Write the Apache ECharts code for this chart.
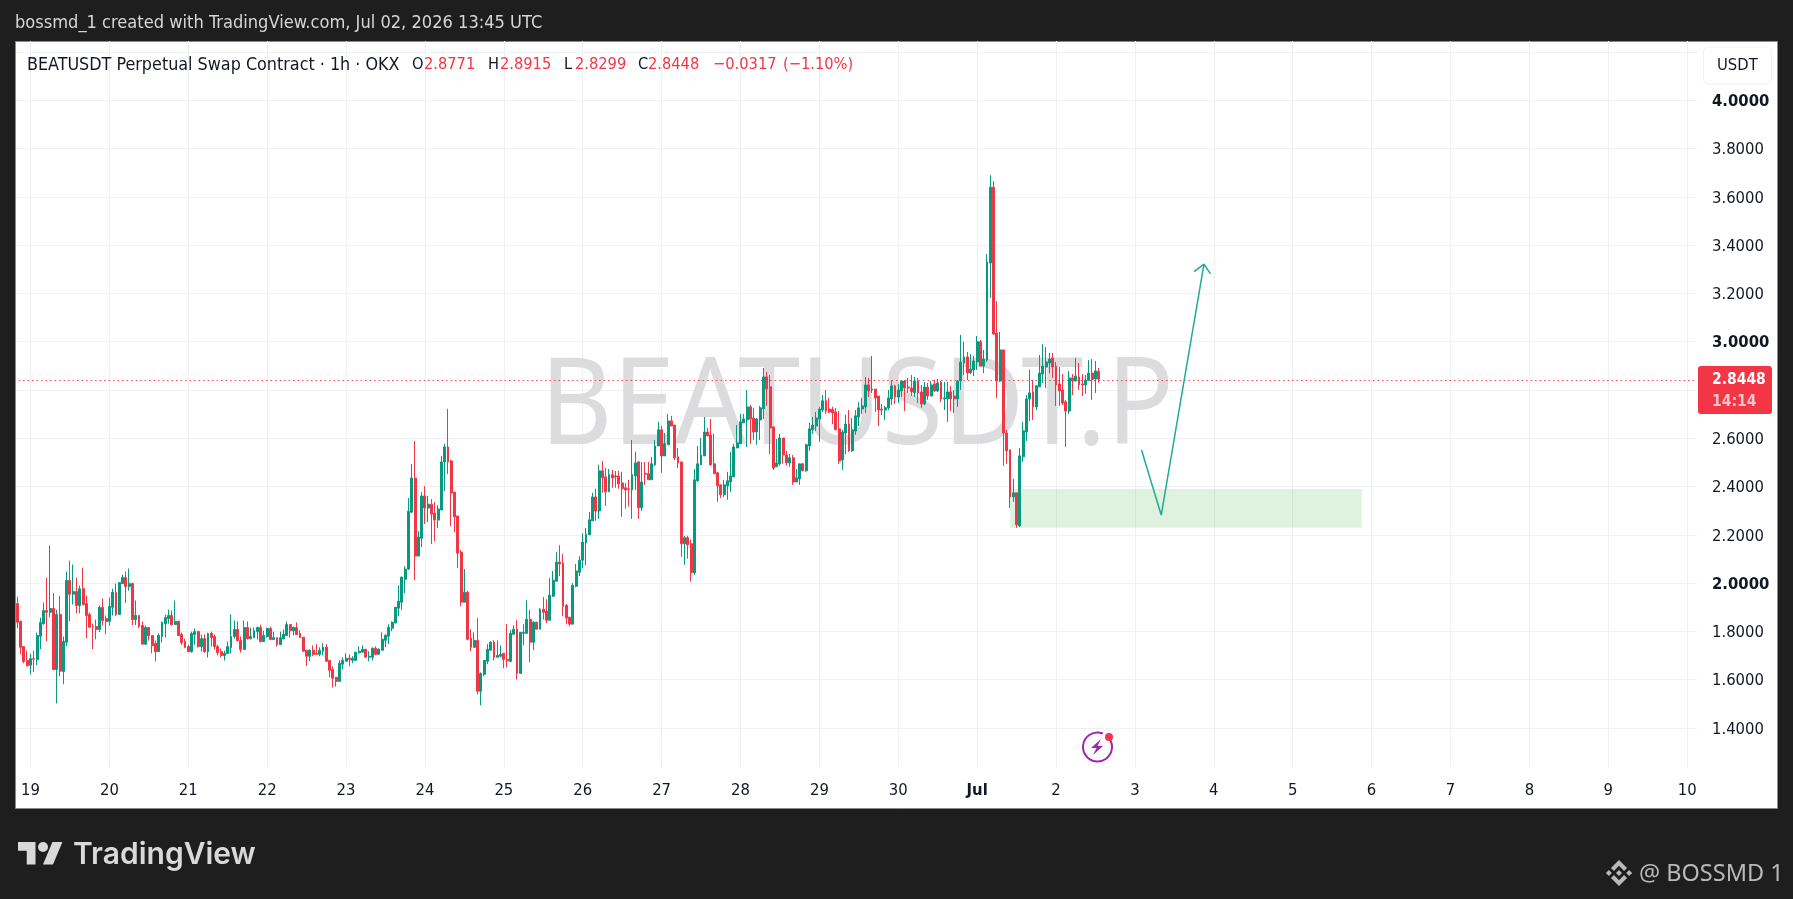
<!DOCTYPE html>
<html><head><meta charset="utf-8">
<script src="https://cdn.jsdelivr.net/npm/echarts@6/dist/echarts.min.js"></script>
<style>html,body{margin:0;padding:0;background:#1e1e1e}#c{width:1793px;height:899px}</style>
</head><body><div id="c"></div>
<script>
const dayLabels=['19','20','21','22','23','24','25','26','27','28','29','30','Jul','2','3','4','5','6','7','8','9','10'];
const priceTicks=[1.4,1.6,1.8,2.0,2.2,2.4,2.6,2.8,3.0,3.2,3.4,3.6,3.8,4.0,4.2];
const priceLabels=[1.4,1.6,1.8,2.0,2.2,2.4,2.6,2.8,3.0,3.2,3.4,3.6,3.8,4.0];
const lastPrice=2.8448;
const opens=[
1.915,1.841,1.737,1.679,1.660,1.687,1.683,1.780,1.832,1.886,
1.879,1.895,1.642,1.870,1.634,1.755,2.011,1.954,1.965,1.907,
1.977,1.915,1.870,1.820,1.820,1.808,1.899,1.853,1.842,1.900,
1.961,1.870,1.998,2.023,1.986,1.998,1.849,1.866,1.824,1.747,
1.816,1.783,1.750,1.716,1.779,1.832,1.853,1.866,1.828,1.841,
1.787,1.758,1.737,1.716,1.787,1.799,1.737,1.770,1.716,1.791,
1.779,1.737,1.716,1.700,1.708,1.733,1.779,1.808,1.762,1.725,
1.816,1.770,1.774,1.799,1.816,1.758,1.779,1.812,1.766,1.774,
1.745,1.770,1.783,1.828,1.803,1.816,1.792,1.776,1.722,1.697,
1.722,1.709,1.705,1.718,1.734,1.680,1.643,1.610,1.593,1.664,
1.676,1.689,1.680,1.680,1.711,1.714,1.726,1.693,1.693,1.730,
1.705,1.722,1.763,1.780,1.813,1.835,1.896,1.921,2.016,2.058,
2.294,2.435,2.112,2.186,2.361,2.311,2.327,2.290,2.261,2.303,
2.502,2.564,2.506,2.377,2.278,2.128,1.921,1.962,1.772,1.734,
1.763,1.552,1.622,1.676,1.722,1.755,1.693,1.697,1.709,1.684,
1.676,1.788,1.809,1.626,1.792,1.792,1.850,1.755,1.838,1.809,
1.892,1.884,1.846,1.946,2.008,2.087,2.083,1.908,1.859,1.830,
1.987,2.045,2.095,2.166,2.200,2.258,2.357,2.299,2.465,2.440,
2.378,2.449,2.444,2.444,2.415,2.395,2.391,2.386,2.444,2.502,
2.312,2.455,2.453,2.428,2.490,2.568,2.635,2.527,2.573,2.672,
2.655,2.523,2.502,2.163,2.188,2.163,2.043,2.424,2.490,2.527,
2.626,2.614,2.494,2.457,2.407,2.366,2.403,2.419,2.440,2.560,
2.577,2.664,2.676,2.730,2.684,2.626,2.676,2.722,2.854,2.813,
2.647,2.482,2.494,2.601,2.531,2.498,2.519,2.419,2.432,2.494,
2.465,2.568,2.635,2.651,2.680,2.717,2.755,2.721,2.719,2.709,
2.639,2.510,2.622,2.659,2.548,2.630,2.688,2.721,2.730,2.821,
2.800,2.804,2.775,2.721,2.717,2.726,2.763,2.817,2.771,2.796,
2.837,2.812,2.808,2.789,2.837,2.792,2.742,2.812,2.775,2.825,
2.796,2.833,2.763,2.763,2.792,2.775,2.763,2.837,2.912,2.937,
2.871,2.883,2.916,3.000,2.899,2.924,3.326,3.640,3.036,2.837,
2.966,2.622,2.552,2.357,2.374,2.237,2.523,2.626,2.763,2.792,
2.730,2.813,2.866,2.895,2.912,2.933,2.899,2.825,2.800,2.751,
2.713,2.850,2.837,2.854,2.825,2.821,2.840,2.870,2.846,2.8771];
const highs=[
1.944,1.845,1.737,1.720,1.707,1.720,1.795,1.857,1.919,2.023,
2.156,1.959,1.890,1.948,1.779,2.048,2.093,2.077,2.023,1.990,
2.064,1.948,1.878,1.832,1.849,1.907,1.936,1.866,1.940,1.977,
1.998,2.002,2.035,2.048,2.060,2.002,1.928,1.866,1.841,1.824,
1.816,1.783,1.762,1.791,1.841,1.870,1.890,1.886,1.928,1.845,
1.795,1.770,1.745,1.799,1.812,1.803,1.787,1.787,1.795,1.799,
1.787,1.745,1.729,1.720,1.758,1.870,1.845,1.841,1.779,1.845,
1.841,1.816,1.816,1.820,1.828,1.803,1.816,1.820,1.799,1.774,
1.799,1.808,1.841,1.828,1.820,1.837,1.805,1.776,1.722,1.726,
1.742,1.747,1.734,1.751,1.747,1.680,1.655,1.610,1.680,1.693,
1.709,1.705,1.697,1.714,1.738,1.742,1.726,1.718,1.734,1.738,
1.730,1.796,1.788,1.830,1.842,1.900,1.991,2.025,2.070,2.352,
2.493,2.589,2.215,2.377,2.402,2.361,2.348,2.336,2.323,2.527,
2.576,2.722,2.510,2.377,2.278,2.137,2.058,1.967,1.809,1.796,
1.855,1.630,1.680,1.747,1.759,1.763,1.763,1.742,1.709,1.830,
1.805,1.825,1.846,1.796,1.830,1.929,1.888,1.842,1.838,1.896,
1.942,1.933,2.020,2.050,2.128,2.157,2.120,1.913,1.859,2.000,
2.079,2.112,2.207,2.228,2.295,2.374,2.391,2.490,2.506,2.477,
2.473,2.469,2.465,2.465,2.461,2.415,2.428,2.593,2.544,2.505,
2.502,2.502,2.502,2.523,2.593,2.668,2.651,2.622,2.701,2.693,
2.655,2.560,2.502,2.196,2.196,2.180,2.473,2.568,2.601,2.688,
2.643,2.680,2.618,2.461,2.407,2.428,2.461,2.544,2.577,2.655,
2.701,2.701,2.800,2.738,2.726,2.684,2.734,2.891,2.875,2.862,
2.647,2.597,2.618,2.601,2.548,2.535,2.531,2.473,2.494,2.498,
2.577,2.664,2.688,2.709,2.730,2.779,2.800,2.767,2.731,2.726,
2.713,2.635,2.697,2.717,2.684,2.717,2.750,2.767,2.854,2.850,
2.941,2.804,2.775,2.742,2.734,2.800,2.841,2.821,2.825,2.841,
2.841,2.850,2.862,2.854,2.850,2.821,2.833,2.829,2.837,2.841,
2.846,2.837,2.833,2.833,2.817,2.800,2.841,3.028,3.000,2.957,
2.949,2.941,3.024,3.007,2.966,3.363,3.690,3.665,3.168,3.040,
2.966,2.635,2.552,2.432,2.374,2.560,2.668,2.779,2.883,2.841,
2.821,2.945,2.990,2.978,2.953,2.953,2.916,2.895,2.866,2.759,
2.879,2.866,2.933,2.912,2.866,2.862,2.924,2.928,2.920,2.8915];
const lows=[
1.813,1.705,1.668,1.654,1.622,1.631,1.660,1.726,1.828,1.759,
1.859,1.639,1.502,1.614,1.581,1.739,1.842,1.911,1.875,1.875,
1.908,1.772,1.817,1.726,1.767,1.797,1.824,1.788,1.824,1.866,
1.864,1.870,1.997,1.917,1.969,1.826,1.826,1.813,1.747,1.743,
1.762,1.709,1.676,1.716,1.754,1.774,1.832,1.824,1.828,1.783,
1.745,1.733,1.716,1.712,1.745,1.733,1.716,1.712,1.692,1.737,
1.725,1.700,1.692,1.679,1.708,1.708,1.770,1.758,1.712,1.725,
1.766,1.766,1.774,1.766,1.754,1.758,1.774,1.766,1.766,1.737,
1.745,1.766,1.783,1.774,1.783,1.787,1.774,1.715,1.657,1.677,
1.697,1.705,1.697,1.701,1.673,1.610,1.568,1.572,1.593,1.643,
1.676,1.655,1.668,1.680,1.709,1.714,1.693,1.676,1.680,1.701,
1.705,1.722,1.734,1.747,1.801,1.834,1.863,1.888,1.958,2.054,
2.290,2.012,2.112,2.149,2.245,2.253,2.162,2.174,2.228,2.303,
2.381,2.452,2.236,2.211,2.062,1.904,1.921,1.763,1.718,1.734,
1.539,1.494,1.614,1.664,1.722,1.680,1.693,1.694,1.647,1.651,
1.672,1.788,1.601,1.626,1.742,1.792,1.672,1.722,1.809,1.809,
1.849,1.834,1.846,1.942,2.008,2.029,1.863,1.830,1.821,1.830,
1.983,2.029,2.062,2.074,2.200,2.258,2.258,2.266,2.374,2.320,
2.378,2.395,2.395,2.391,2.275,2.308,2.317,2.266,2.386,2.266,
2.300,2.407,2.428,2.428,2.486,2.568,2.457,2.527,2.573,2.651,
2.510,2.477,2.109,2.076,2.101,2.006,2.035,2.419,2.490,2.527,
2.610,2.486,2.453,2.337,2.353,2.357,2.345,2.378,2.440,2.560,
2.577,2.664,2.564,2.577,2.593,2.573,2.593,2.680,2.734,2.535,
2.469,2.482,2.486,2.494,2.486,2.482,2.407,2.419,2.407,2.465,
2.461,2.548,2.618,2.630,2.585,2.709,2.701,2.705,2.659,2.635,
2.494,2.469,2.535,2.544,2.544,2.614,2.651,2.701,2.705,2.771,
2.788,2.709,2.651,2.697,2.676,2.717,2.738,2.742,2.746,2.771,
2.713,2.788,2.775,2.771,2.746,2.726,2.738,2.759,2.775,2.792,
2.792,2.750,2.717,2.668,2.713,2.705,2.730,2.800,2.862,2.841,
2.866,2.858,2.883,2.899,2.870,2.916,3.181,3.028,2.767,2.833,
2.486,2.494,2.312,2.337,2.229,2.233,2.502,2.589,2.672,2.676,
2.717,2.813,2.829,2.808,2.869,2.850,2.734,2.734,2.738,2.564,
2.701,2.779,2.837,2.800,2.775,2.784,2.840,2.759,2.788,2.8299];
const closes=[
1.838,1.734,1.675,1.658,1.687,1.685,1.783,1.837,1.886,1.879,
1.895,1.642,1.870,1.635,1.758,2.011,1.954,1.965,1.907,1.977,
1.911,1.866,1.817,1.817,1.808,1.899,1.845,1.841,1.903,1.961,
1.870,2.002,2.023,1.986,1.998,1.849,1.866,1.821,1.747,1.816,
1.783,1.741,1.716,1.783,1.837,1.857,1.866,1.828,1.841,1.783,
1.754,1.733,1.716,1.791,1.799,1.737,1.770,1.716,1.791,1.774,
1.737,1.712,1.700,1.709,1.737,1.779,1.808,1.762,1.725,1.816,
1.770,1.779,1.803,1.816,1.758,1.783,1.812,1.766,1.774,1.745,
1.774,1.787,1.828,1.803,1.816,1.787,1.774,1.718,1.697,1.722,
1.705,1.705,1.722,1.734,1.676,1.639,1.606,1.593,1.668,1.680,
1.689,1.684,1.689,1.714,1.718,1.726,1.693,1.697,1.730,1.705,
1.726,1.767,1.784,1.817,1.838,1.900,1.925,2.025,2.058,2.298,
2.435,2.112,2.191,2.361,2.311,2.327,2.286,2.261,2.307,2.502,
2.564,2.502,2.373,2.274,2.124,1.921,1.962,1.767,1.734,1.763,
1.552,1.626,1.680,1.726,1.755,1.693,1.701,1.704,1.684,1.678,
1.792,1.809,1.626,1.796,1.796,1.850,1.755,1.838,1.809,1.892,
1.879,1.846,1.950,2.012,2.087,2.079,1.904,1.855,1.830,1.991,
2.050,2.095,2.170,2.203,2.262,2.357,2.299,2.465,2.436,2.378,
2.449,2.436,2.440,2.411,2.391,2.386,2.388,2.449,2.498,2.312,
2.419,2.451,2.428,2.494,2.568,2.635,2.527,2.577,2.672,2.651,
2.519,2.498,2.163,2.188,2.159,2.043,2.428,2.494,2.531,2.626,
2.610,2.490,2.453,2.403,2.366,2.407,2.424,2.444,2.564,2.581,
2.668,2.680,2.730,2.680,2.626,2.680,2.726,2.854,2.804,2.643,
2.477,2.498,2.601,2.531,2.498,2.519,2.419,2.436,2.494,2.465,
2.573,2.639,2.655,2.684,2.721,2.755,2.713,2.709,2.705,2.635,
2.506,2.626,2.659,2.548,2.635,2.693,2.726,2.734,2.821,2.796,
2.804,2.767,2.717,2.717,2.726,2.767,2.817,2.771,2.800,2.837,
2.808,2.808,2.792,2.837,2.788,2.742,2.812,2.775,2.821,2.796,
2.829,2.763,2.767,2.792,2.763,2.763,2.837,2.916,2.937,2.871,
2.887,2.920,3.000,2.899,2.928,3.330,3.640,3.032,2.837,2.966,
2.622,2.548,2.357,2.374,2.242,2.527,2.631,2.763,2.788,2.730,
2.817,2.870,2.899,2.916,2.928,2.895,2.821,2.796,2.746,2.713,
2.850,2.837,2.858,2.821,2.821,2.841,2.870,2.844,2.879,2.8448];
// drawn annotations, as [hour slot, price]
const arrowLine=[[343,2.5515],[349,2.282],[362,3.321]];
const arrowHead=[[359,3.290],[362,3.321],[364,3.281]];
const zoneFrom=[303,2.390];
const zoneTo=[410,2.2295];

const SLOTS=513, FIRST_DAY_SLOT=5;
const hourAxis=[];
for(let i=0;i<SLOTS;i++){const k=(i-FIRST_DAY_SLOT)/24;hourAxis.push(Number.isInteger(k)&&dayLabels[k]?dayLabels[k]:'');}
const candles=[[NaN,NaN,NaN,NaN]];
opens.forEach((o,i)=>candles.push([o,closes[i],lows[i],highs[i]]));

const FONT='"DejaVu Sans Condensed"';
const INK='#131722',RED='#f23645',GREEN='#089981',TEAL='#22ab94',GRID='#f0f1f4',DARK='#1e1e1e';
function txt(x,y,t,size,fill,weight,family){return {type:'text',x:x,y:y,z:20,silent:true,style:{text:t,fill:fill,font:(weight||'normal')+' '+size+'px '+(family||FONT),verticalAlign:'middle',align:'left'}};}
function poly(points,fill){return {type:'polygon',z:20,silent:true,shape:{points:points},style:{fill:fill}};}
function shift(cx,cy,pts){return pts.map(p=>[cx+p[0],cy+p[1]]);}
const legendTitle='BEATUSDT Perpetual Swap Contract · 1h · OKX';
const legendBits=[
 [412,'O',INK],[424,'2.8771',RED],[488,'H',INK],[500,'2.8915',RED],
 [564,'L',INK],[575,'2.8299',RED],[638,'C',INK],[648,'2.8448',RED],[713,'−0.0317',RED],[783,'(−1.10%)',RED]];
const LOGO='#d9d9d9',MARK='#b9b9b9';
const chevron=[[-5.07,-2.08],[0,-7.15],[5.07,-2.08],[8.01,-5.03],[0,-13.04],[-8.01,-5.03]];
const dot=[[-3,0],[0,-3],[3,0],[0,3]];
const graphics=[
 {type:'rect',z:-10,silent:true,shape:{x:15.5,y:41.5,width:1762,height:767},style:{fill:'#fff',stroke:'#8a8a8a',lineWidth:1}},
 {type:'rect',z:10,silent:true,shape:{x:0,y:41,width:15,height:767},style:{fill:DARK}},
 {type:'line',z:10,silent:true,shape:{x1:15.5,y1:41,x2:15.5,y2:808},style:{stroke:'#8a8a8a',lineWidth:1}},
 {type:'text',x:857,y:410,scaleX:0.93,z:1,silent:true,style:{text:'BEATUSDT.P',fill:'#dcdcde',font:'normal 120px "Noto Sans"',align:'center',verticalAlign:'middle'}},
 txt(15,23,'bossmd_1 created with TradingView.com, Jul 02, 2026 13:45 UTC',18.1,'#d6d6d6'),
 {type:'rect',z:19,silent:true,shape:{x:1703.5,y:47,width:68,height:37,r:5},style:{fill:'#fff',stroke:'#f0f1f4',lineWidth:1}},
 txt(1717,66,'USDT',16.5,INK),
 {type:'rect',z:19,silent:true,shape:{x:1698,y:366,width:74,height:48,r:3},style:{fill:RED}},
 txt(1712,380,'2.8448',15.5,'#fff','bold'),
 txt(1712,402,'14:14',15.5,'#fbc4c9','bold'),
 {type:'arc',z:20,silent:true,shape:{cx:1097.5,cy:747,r:14.5,startAngle:-0.6,endAngle:-1.2,clockwise:true},style:{stroke:'#9c27b0',fill:null,lineWidth:2}},
 poly([[1101,739],[1091,748],[1096.5,748],[1093,755],[1103,746],[1097.5,746]],'#9c27b0'),
 {type:'circle',z:21,silent:true,shape:{cx:1109,cy:737,r:4},style:{fill:RED}},
 poly([[18,842],[35.5,842],[35.5,864.5],[26.75,864.5],[26.75,850.75],[18,850.75]],LOGO),
 poly([[43,864.5],[52.4,842],[62.4,842],[53,864.5]],LOGO),
 {type:'circle',z:20,silent:true,shape:{cx:43,cy:847,r:5},style:{fill:LOGO}},
 txt(73,855,'TradingView',30,LOGO,'600','Inter'),
 poly(shift(1619,873,chevron),MARK),
 poly(shift(1619,873,chevron.map(p=>[p[0],-p[1]])),MARK),
 poly(shift(1619,873,dot),MARK),
 poly(shift(1608.9,873,dot),MARK),
 poly(shift(1629.1,873,dot),MARK),
 txt(1639,874,'@ BOSSMD 1',23.5,MARK,'normal','"Noto Sans"'),
 txt(27,65,legendTitle,17.8,INK)
];
legendBits.forEach(b=>graphics.push(txt(b[0],65,b[1],16.3,b[2])));

const chart=echarts.init(document.getElementById('c'),null,{renderer:'canvas',width:1793,height:899});
chart.setOption({
 animation:false,
 backgroundColor:DARK,
 graphic:{elements:graphics},
 grid:{left:14.07,right:96,top:41,height:726,containLabel:false},
 xAxis:{type:'category',data:hourAxis,boundaryGap:false,
  axisLine:{show:false},axisTick:{show:false},
  axisLabel:{interval:(i,v)=>v!=='',color:INK,fontFamily:FONT,fontSize:16.5,margin:15,hideOverlap:false,
   formatter:v=>v==='Jul'?'{b|Jul}':v,rich:{b:{fontWeight:'bold',fontSize:16.5,fontFamily:FONT,color:INK}}},
  splitLine:{show:true,interval:(i,v)=>v!=='',lineStyle:{color:GRID,width:1}}},
 yAxis:{type:'value',position:'right',min:1.2382,max:4.2457,
  axisLine:{show:false},
  axisTick:{show:false,customValues:priceTicks},
  axisLabel:{customValues:priceLabels,color:INK,fontFamily:FONT,fontSize:16.5,margin:15,padding:[3,0,0,0],
   formatter:v=>Number.isInteger(Math.round(v*1e6)/1e6)?'{b|'+v.toFixed(4)+'}':v.toFixed(4),
   rich:{b:{fontWeight:'bold',fontSize:16.5,fontFamily:FONT,color:INK}}},
  splitLine:{show:true,lineStyle:{color:GRID,width:1}}},
 series:[
  {type:'candlestick',data:candles,barWidth:2.4,z:5,
   itemStyle:{color:GREEN,color0:RED,borderColor:GREEN,borderColor0:RED,borderWidth:1},
   markLine:{silent:true,symbol:'none',animation:false,label:{show:false},
    lineStyle:{color:RED,type:[1.5,3],width:1,opacity:.9},data:[{yAxis:lastPrice}]},
   markArea:{silent:true,z:3,itemStyle:{color:'rgba(76,175,80,0.18)'},
    data:[[{coord:zoneFrom},{coord:zoneTo}]]}},
  {type:'line',data:arrowLine,symbol:'none',silent:true,z:6,lineStyle:{color:TEAL,width:1.5}},
  {type:'line',data:arrowHead,symbol:'none',silent:true,z:6,lineStyle:{color:TEAL,width:1.5}}
 ]
});
</script></body></html>
